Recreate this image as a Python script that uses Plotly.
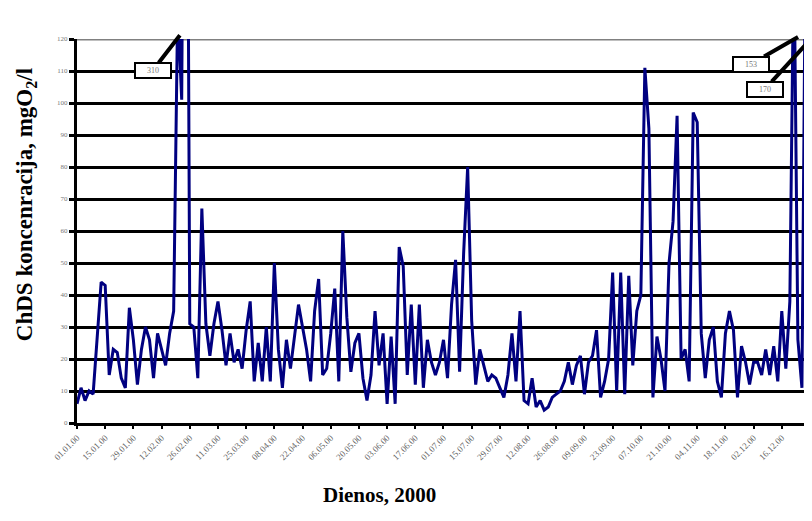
import pandas as pd
import plotly.graph_objects as go

start_date = "2000-01-01"
step = "2D"
values = [
    6, 11, 7, 10, 9, 26, 44, 43, 15, 23,
    22, 14, 11, 36, 26, 12, 23, 30, 26, 14,
    28, 23, 18, 28, 35, 130, 101, 310, 31, 30,
    14, 67, 31, 21, 31, 38, 29, 18, 28, 19,
    23, 17, 29, 38, 13, 25, 13, 30, 13, 50,
    23, 11, 26, 17, 27, 37, 30, 23, 13, 35,
    45, 15, 17, 28, 42, 13, 60, 33, 16, 25,
    28, 14, 7, 15, 35, 18, 28, 6, 27, 6,
    55, 49, 15, 37, 12, 37, 11, 26,
    19, 15, 19, 26, 14, 37, 51, 16, 53, 80,
    32, 12, 23, 18, 13, 15, 14, 11, 8, 15,
    28, 13, 35, 7, 6, 14, 5, 7, 4, 5,
    8, 9, 10, 13, 19, 12, 18, 21, 9, 19,
    21, 29, 8, 13, 20, 47, 10, 47, 9, 46,
    18, 35, 40, 111, 92, 8, 27, 20, 10, 50,
    63, 96, 20, 23, 13, 97, 94, 28, 14, 26,
    30, 13, 8, 28, 35, 29, 8, 24, 19, 12,
    19, 19, 15, 23, 15, 24, 13, 35, 17, 38,
    150, 26, 11, 170, 30, 60,
]
dates = pd.date_range(start_date, periods=len(values), freq=step)

y_ticks = list(range(0, 130, 10))
peak_labels = ["310", "153", "170"]

x_title = "Dienos, 2000"
y_title = "ChDS koncenracija, mgO<sub>2</sub>/l"

fig = go.Figure()
fig.add_trace(go.Scatter(
    x=dates, y=values, mode="lines",
    line=dict(color="#000080", width=3),
    showlegend=False, hoverinfo="x+y",
))

fig.add_shape(type="line", xref="paper", yref="y", x0=0, x1=1, y0=120, y1=120,
              line=dict(color="#808080", width=3), layer="below")

ann_common = dict(
    xref="paper", yref="paper", showarrow=True, arrowhead=0, arrowwidth=4,
    arrowcolor="black", bordercolor="black", borderwidth=2, bgcolor="white",
    font=dict(family="Liberation Serif", size=8, color="#777"),
    width=32, height=11,
)
fig.add_annotation(x=0.140, y=1.01, ax=-27, ay=35, text=peak_labels[0], **ann_common)
fig.add_annotation(x=0.981, y=1.005, ax=-47, ay=27, text=peak_labels[1], **ann_common)
fig.add_annotation(x=0.997, y=0.997, ax=-45, ay=49, text=peak_labels[2], **ann_common)

fig.add_annotation(x=0.411, y=-0.1875, xref="paper", yref="paper", showarrow=False,
                   text="<b>" + x_title + "</b>", xanchor="center", yanchor="middle",
                   font=dict(family="Liberation Serif", size=21, color="black"))
fig.add_annotation(x=-0.069, y=0.568, xref="paper", yref="paper", showarrow=False,
                   text="<b>" + y_title + "</b>", textangle=-90,
                   xanchor="center", yanchor="middle",
                   font=dict(family="Liberation Serif", size=23, color="black"))

fig.update_layout(
    width=804, height=513,
    margin=dict(l=69, r=0, t=31, b=98),
    paper_bgcolor="white", plot_bgcolor="white",
    xaxis=dict(
        type="date", range=["2000-01-01", "2000-12-31"], automargin=False,
        tick0="2000-01-01", dtick=14 * 86400000, tickformat="%d.%m.%y",
        tickangle=-45, ticks="outside", ticklen=3, tickwidth=2, tickcolor="black",
        showline=True, linecolor="black", linewidth=3, showgrid=False, zeroline=False,
        tickfont=dict(family="Liberation Serif", size=9, color="#666"),
    ),
    yaxis=dict(
        range=[0, 120], tickvals=y_ticks, ticks="outside", ticklen=5, tickwidth=3,
        automargin=False,
        tickcolor="black", showline=True, linecolor="black", linewidth=3,
        showgrid=True, gridcolor="black", gridwidth=3, zeroline=False,
        tickfont=dict(family="Liberation Serif", size=7, color="#777"),
    ),
)

fig.write_html("out.html")
